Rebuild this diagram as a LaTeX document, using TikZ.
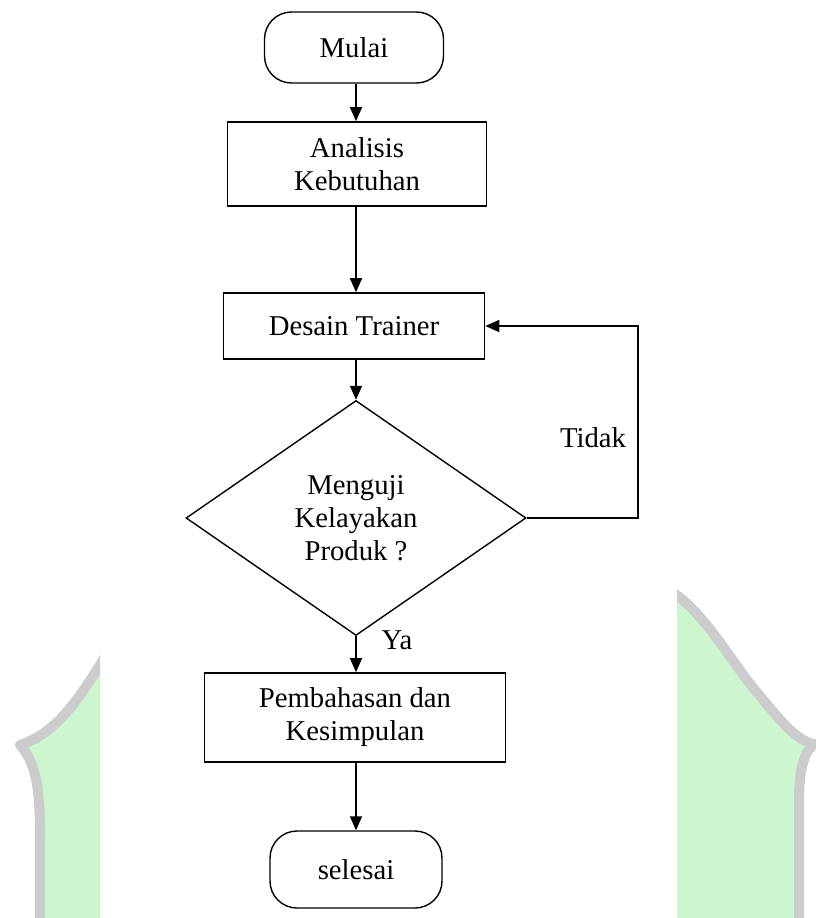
\documentclass[tikz,border=0pt]{standalone}
\usepackage{fontspec}
\setmainfont{Liberation Serif}
\usetikzlibrary{shapes.geometric,arrows.meta}
\definecolor{wmgreen}{RGB}{205,245,208}
\definecolor{wmgray}{RGB}{204,204,204}
\begin{document}
\begin{tikzpicture}[x=1pt,y=-1pt,
  every node/.style={font=\fontsize{28.7}{33}\selectfont, inner sep=0pt},
  procbox/.style={draw, line width=1.6pt, rectangle, align=center},
  termbox/.style={draw, line width=1.4pt, rectangle, rounded corners=27pt, align=center},
  decbox/.style={draw, line width=1.4pt, diamond, align=center},
  flow/.style={draw, line width=1.5pt, -{Triangle[length=14pt,width=12pt]}},
  wmshape/.style={fill=wmgreen, draw=wmgray, line width=10pt, line join=round}]
\useasboundingbox (0,0) rectangle (816,918);
\fill[white] (0,0) rectangle (816,918);
% watermark, left part
\begin{scope}
  \clip (0,0) rectangle (100,918);
  \path[wmshape] (112,645) .. controls (82,695) and (58,733) .. (20,745)
     .. controls (38,765) and (40,795) .. (40,840) -- (40,940) -- (120,940) -- cycle;
\end{scope}
% watermark, right part
\begin{scope}
  \clip (677,0) rectangle (816,918);
  \path[wmshape] (665,588) .. controls (700,605) and (730,660) .. (755,690)
     .. controls (780,720) and (795,740) .. (814,744)
     .. controls (804,752) and (799,770) .. (799,800) -- (799,940) -- (660,940) -- cycle;
\end{scope}
% nodes
\node[termbox, minimum width=179pt, minimum height=71pt] (mulai) at (354,47.5) {Mulai};
\node[procbox, minimum width=259pt, minimum height=84pt] (analisis) at (357,164) {Analisis\\Kebutuhan};
\node[procbox, minimum width=261pt, minimum height=66pt] (desain) at (354,326) {Desain Trainer};
\node[decbox, minimum width=340pt, minimum height=235pt] (uji) at (356,518) {Menguji\\Kelayakan\\Produk ?};
\node[procbox, minimum width=301pt, minimum height=89pt] (bahas) at (355,717.5) {Pembahasan dan\\Kesimpulan};
\node[termbox, minimum width=172pt, minimum height=77pt] (selesai) at (356,869.5) {selesai};
\node (tidak) at (593,438) {Tidak};
\node (ya) at (397,640) {Ya};
\coordinate (loop) at (638,518);
% connectors
\draw[flow] (mulai.south -| uji.north) -- (analisis.north -| uji.north);
\draw[flow] (analisis.south -| uji.north) -- (desain.north -| uji.north);
\draw[flow] (desain.south -| uji.north) -- (uji.north);
\draw[flow] (uji.south) -- (bahas.north -| uji.south);
\draw[flow] (bahas.south -| uji.south) -- (selesai.north);
\draw[flow] (uji.east) -- (loop) |- (desain.east);
\end{tikzpicture}
\end{document}
